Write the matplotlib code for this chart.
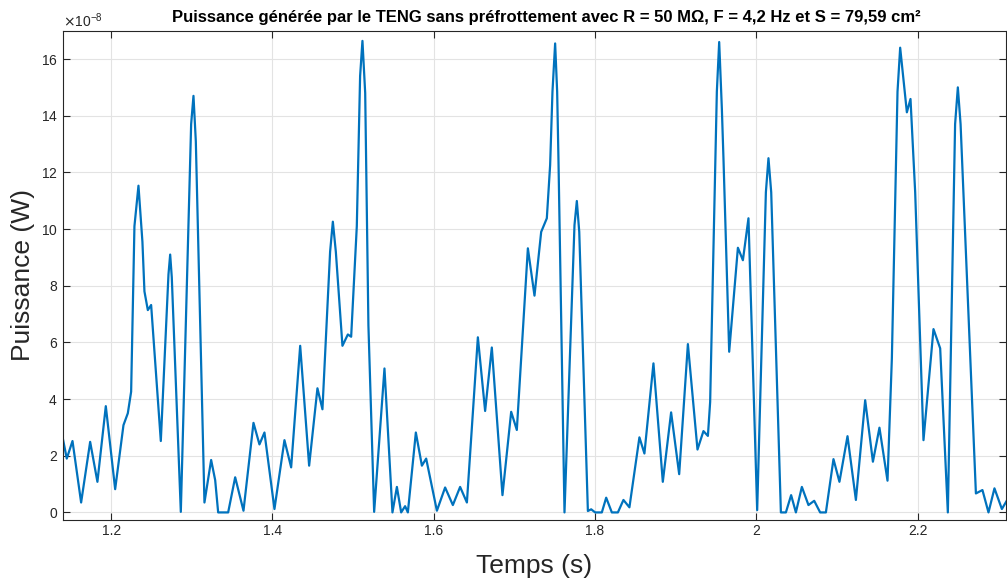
import numpy as np
import matplotlib.pyplot as plt
from matplotlib.ticker import FuncFormatter

# time (s) and power (x1e-8 W)
temps = [1.1397, 1.1450, 1.1521, 1.1628, 1.1740, 1.1830, 1.1934, 1.2050, 1.2153, 1.2207,
         1.2248, 1.2289, 1.2339, 1.2388, 1.2413, 1.2455, 1.2496, 1.2616, 1.2711, 1.2732,
         1.2752, 1.2864, 1.2992, 1.3021, 1.3050, 1.3157, 1.3240,
         1.3290, 1.3327, 1.3451, 1.3538, 1.3641, 1.3765, 1.3839, 1.3901, 1.4025, 1.4149,
         1.4232, 1.4344, 1.4455, 1.4558, 1.4620, 1.4715, 1.4749, 1.4786, 1.4868, 1.4935,
         1.4976, 1.5046, 1.5087, 1.5116, 1.5150, 1.5190,
         1.5261, 1.5389, 1.5488, 1.5543, 1.5596, 1.5645, 1.5679, 1.5778, 1.5853, 1.5906,
         1.6039, 1.6141, 1.6237, 1.6327, 1.6411, 1.6547, 1.6637, 1.6720, 1.6852, 1.6960,
         1.7030, 1.7167, 1.7249, 1.7332, 1.7402, 1.7443, 1.7472, 1.7505, 1.7530, 1.7546,
         1.7621, 1.7745, 1.7774, 1.7804,
         1.7911, 1.7952, 1.8001, 1.8084, 1.8138, 1.8208, 1.8283, 1.8352, 1.8426, 1.8550,
         1.8612, 1.8724, 1.8840, 1.8943, 1.9043, 1.9151, 1.9270, 1.9344, 1.9399, 1.9427,
         1.9510, 1.9539, 1.9572, 1.9592, 1.9663, 1.9771, 1.9833, 1.9902, 2.0010, 2.0118,
         2.0150, 2.0184, 2.0304, 2.0366,
         2.0431, 2.0490, 2.0564, 2.0646, 2.0717, 2.0791, 2.0862, 2.0956, 2.1030, 2.1130,
         2.1234, 2.1349, 2.1445, 2.1526, 2.1626, 2.1680, 2.1750, 2.1783, 2.1866, 2.1911,
         2.1969, 2.2072, 2.2196, 2.2279, 2.2374, 2.2464, 2.2498, 2.2532, 2.2722, 2.2803,
         2.2878, 2.2952, 2.3044, 2.3110]
puissance = [2.67, 1.90, 2.52, 0.35, 2.49, 1.08, 3.75, 0.82, 3.08, 3.50,
             4.26, 10.10, 11.53, 9.55, 7.80, 7.14, 7.32, 2.52, 8.40, 9.10,
             8.30, 0.02, 13.70, 14.70, 13.10, 0.35, 1.85,
             1.14, 0.00, 0.00, 1.24, 0.06, 3.16, 2.40, 2.82, 0.12, 2.55,
             1.59, 5.88, 1.65, 4.38, 3.64, 9.20, 10.26, 9.20, 5.88, 6.28,
             6.20, 10.10, 15.40, 16.64, 14.80, 6.60,
             0.02, 5.08, 0.00, 0.90, 0.00, 0.22, 0.00, 2.82, 1.65, 1.90,
             0.06, 0.88, 0.26, 0.90, 0.35, 6.18, 3.58, 5.82, 0.61, 3.55,
             2.91, 9.32, 7.65, 9.90, 10.38, 12.26, 14.85, 16.55, 14.85, 12.50,
             0.00, 10.14, 10.99, 9.90,
             0.05, 0.11, 0.00, 0.00, 0.52, 0.00, 0.00, 0.44, 0.18, 2.65,
             2.08, 5.26, 1.08, 3.53, 1.35, 5.94, 2.22, 2.87, 2.70, 3.90,
             14.85, 16.60, 14.26, 12.50, 5.67, 9.34, 8.90, 10.38, 0.08, 11.30,
             12.50, 11.30, 0.00, 0.00,
             0.61, 0.00, 0.90, 0.26, 0.41, 0.00, 0.00, 1.88, 1.08, 2.69,
             0.44, 3.96, 1.79, 2.99, 1.12, 5.44, 14.85, 16.40, 14.12, 14.59,
             11.30, 2.55, 6.47, 5.79, 0.00, 13.70, 15.00, 13.70, 0.67, 0.79,
             0.00, 0.85, 0.12, 0.44]

t = np.array(temps)
p = np.array(puissance) * 1e-8

plt.rcParams['font.family'] = ['Liberation Sans', 'DejaVu Sans']

fig = plt.figure(figsize=(10.07, 5.78), dpi=100)
ax = fig.add_axes([0.0623, 0.1012, 0.9367, 0.8457])

ax.plot(t, p, color='#0072BD', linewidth=1.6, solid_joinstyle='round')

ax.set_xlim(1.14, 2.3095)
ax.set_ylim(-0.25e-8, 17e-8)
ax.set_xticks([1.2, 1.4, 1.6, 1.8, 2.0, 2.2])
ax.set_yticks(np.arange(0, 17, 2) * 1e-8)
ax.xaxis.set_major_formatter(FuncFormatter(lambda v, pos: '%g' % round(v, 3)))
ax.ticklabel_format(axis='y', style='sci', scilimits=(-8, -8), useMathText=True)
ax.yaxis.get_offset_text().set_fontsize(10)
ax.yaxis.get_offset_text().set_color('#262626')

ax.grid(True, color='#e3e3e3', linewidth=0.8)
ax.set_axisbelow(True)
ax.tick_params(direction='in', length=5, width=0.8, colors='#262626', labelsize=10,
               top=True, right=True)
for s in ax.spines.values():
    s.set_color('#262626')
    s.set_linewidth(0.8)

ax.set_xlabel('Temps (s)', fontsize=19, color='#262626', labelpad=11)
ax.set_ylabel('Puissance (W)', fontsize=19, color='#262626')
ax.set_title('Puissance générée par le TENG sans préfrottement avec R = 50 MΩ, F = 4,2 Hz et S = 79,59 cm²',
             fontsize=12, fontweight='bold', pad=6, x=0.513)

fig.savefig('out.png', dpi=100)
